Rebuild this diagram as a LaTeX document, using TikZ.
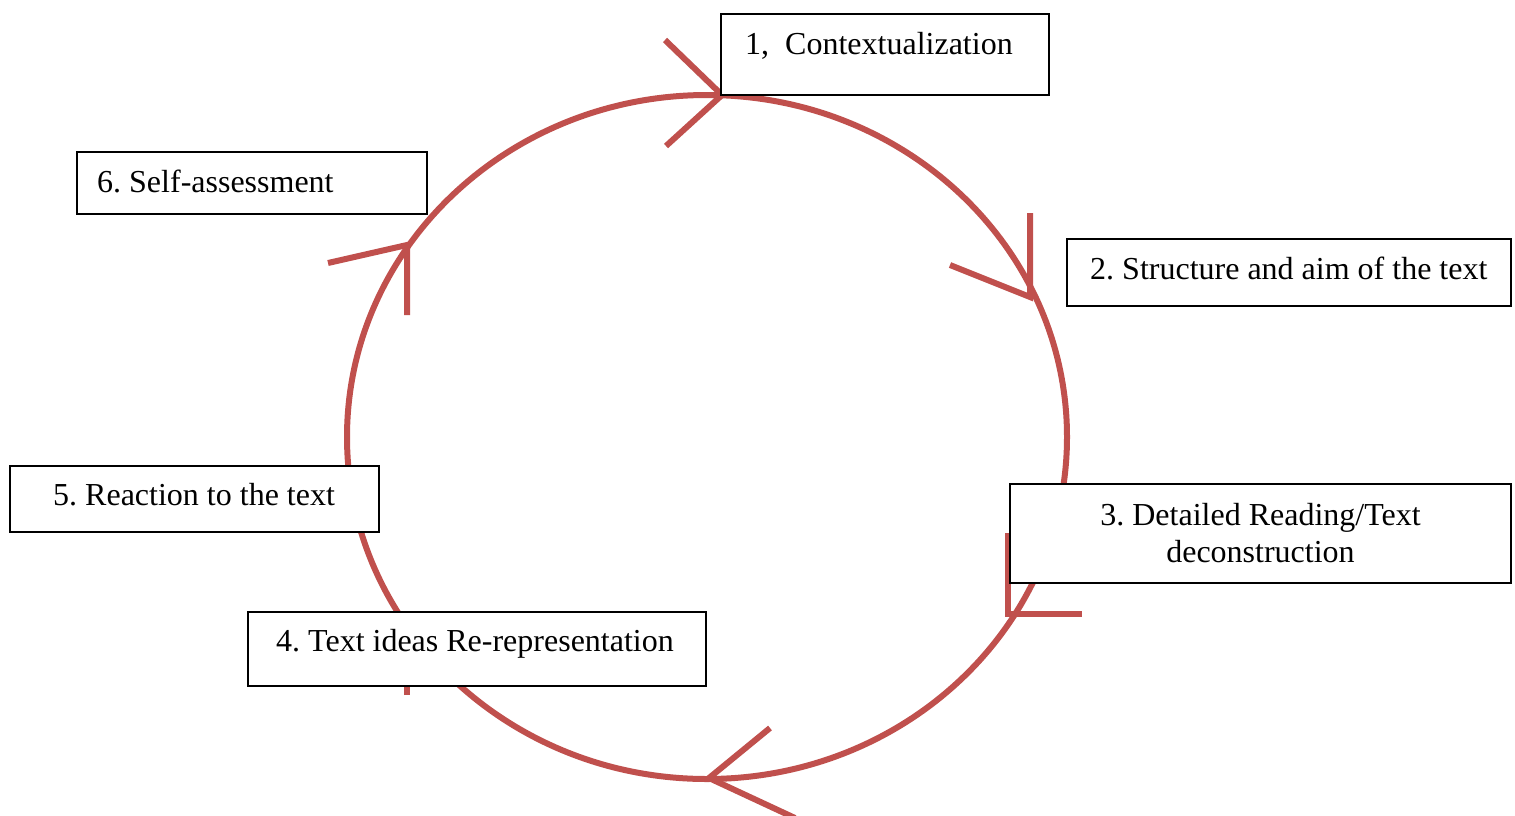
\documentclass[tikz,border=0pt]{standalone}
\usepackage{fontspec}
\setmainfont{Liberation Serif}
\frenchspacing
\definecolor{cyclered}{HTML}{C0504D}
\begin{document}
\begin{tikzpicture}[x=1pt,y=-1pt,
  cycleline/.style={draw=cyclered, line width=6pt},
  chevron/.style={draw=cyclered, line width=6pt, line cap=butt, line join=miter},
  stagebox/.style={draw=black, fill=white, line width=2pt, rectangle, inner sep=0pt},
  stagetext/.style={inner sep=0pt, font=\fontsize{32}{37}\selectfont}]
\useasboundingbox (0,0) rectangle (1515,815);

% the cycle
\draw[cycleline] (707,437) ellipse [x radius=360pt, y radius=342pt];

% direction marks along the cycle
\draw[chevron] (665,40) -- (722,95) -- (666,146);
\draw[chevron] (1030,213) -- (1030,297) -- (950,265);
\draw[chevron] (1008,533) -- (1008,614) -- (1082,614);
\draw[chevron] (770,728) -- (709,778) -- (795,818);
\draw[chevron] (407,695) -- (407,622) -- (480,622);
\draw[chevron] (407,315) -- (407,245) -- (328,263);

% stage boxes
\node[stagebox, anchor=north west, minimum width=328pt, minimum height=81pt] (s1) at (720,13) {};
\node[stagebox, anchor=north west, minimum width=444pt, minimum height=67pt] (s2) at (1066,238) {};
\node[stagebox, anchor=north west, minimum width=501pt, minimum height=99pt] (s3) at (1009,483) {};
\node[stagebox, anchor=north west, minimum width=458pt, minimum height=74pt] (s4) at (247,611) {};
\node[stagebox, anchor=north west, minimum width=369pt, minimum height=66pt] (s5) at (9,465) {};
\node[stagebox, anchor=north west, minimum width=350pt, minimum height=62pt] (s6) at (76,151) {};

% stage labels
\node[stagetext, anchor=base west] (t1) at (745,54) {1,\ \ Contextualization};
\node[stagetext, anchor=base west] (t2) at (1090,279) {2. Structure and aim of the text};
\node[stagetext, align=center] (t3) at (s3.center) {3. Detailed Reading/Text\\deconstruction};
\node[stagetext, anchor=base west] (t4) at (276,651) {4. Text ideas Re-representation};
\node[stagetext, anchor=base west] (t5) at (53,505) {5. Reaction to the text};
\node[stagetext, anchor=base west] (t6) at (97,192) {6. Self-assessment};
\end{tikzpicture}
\end{document}
